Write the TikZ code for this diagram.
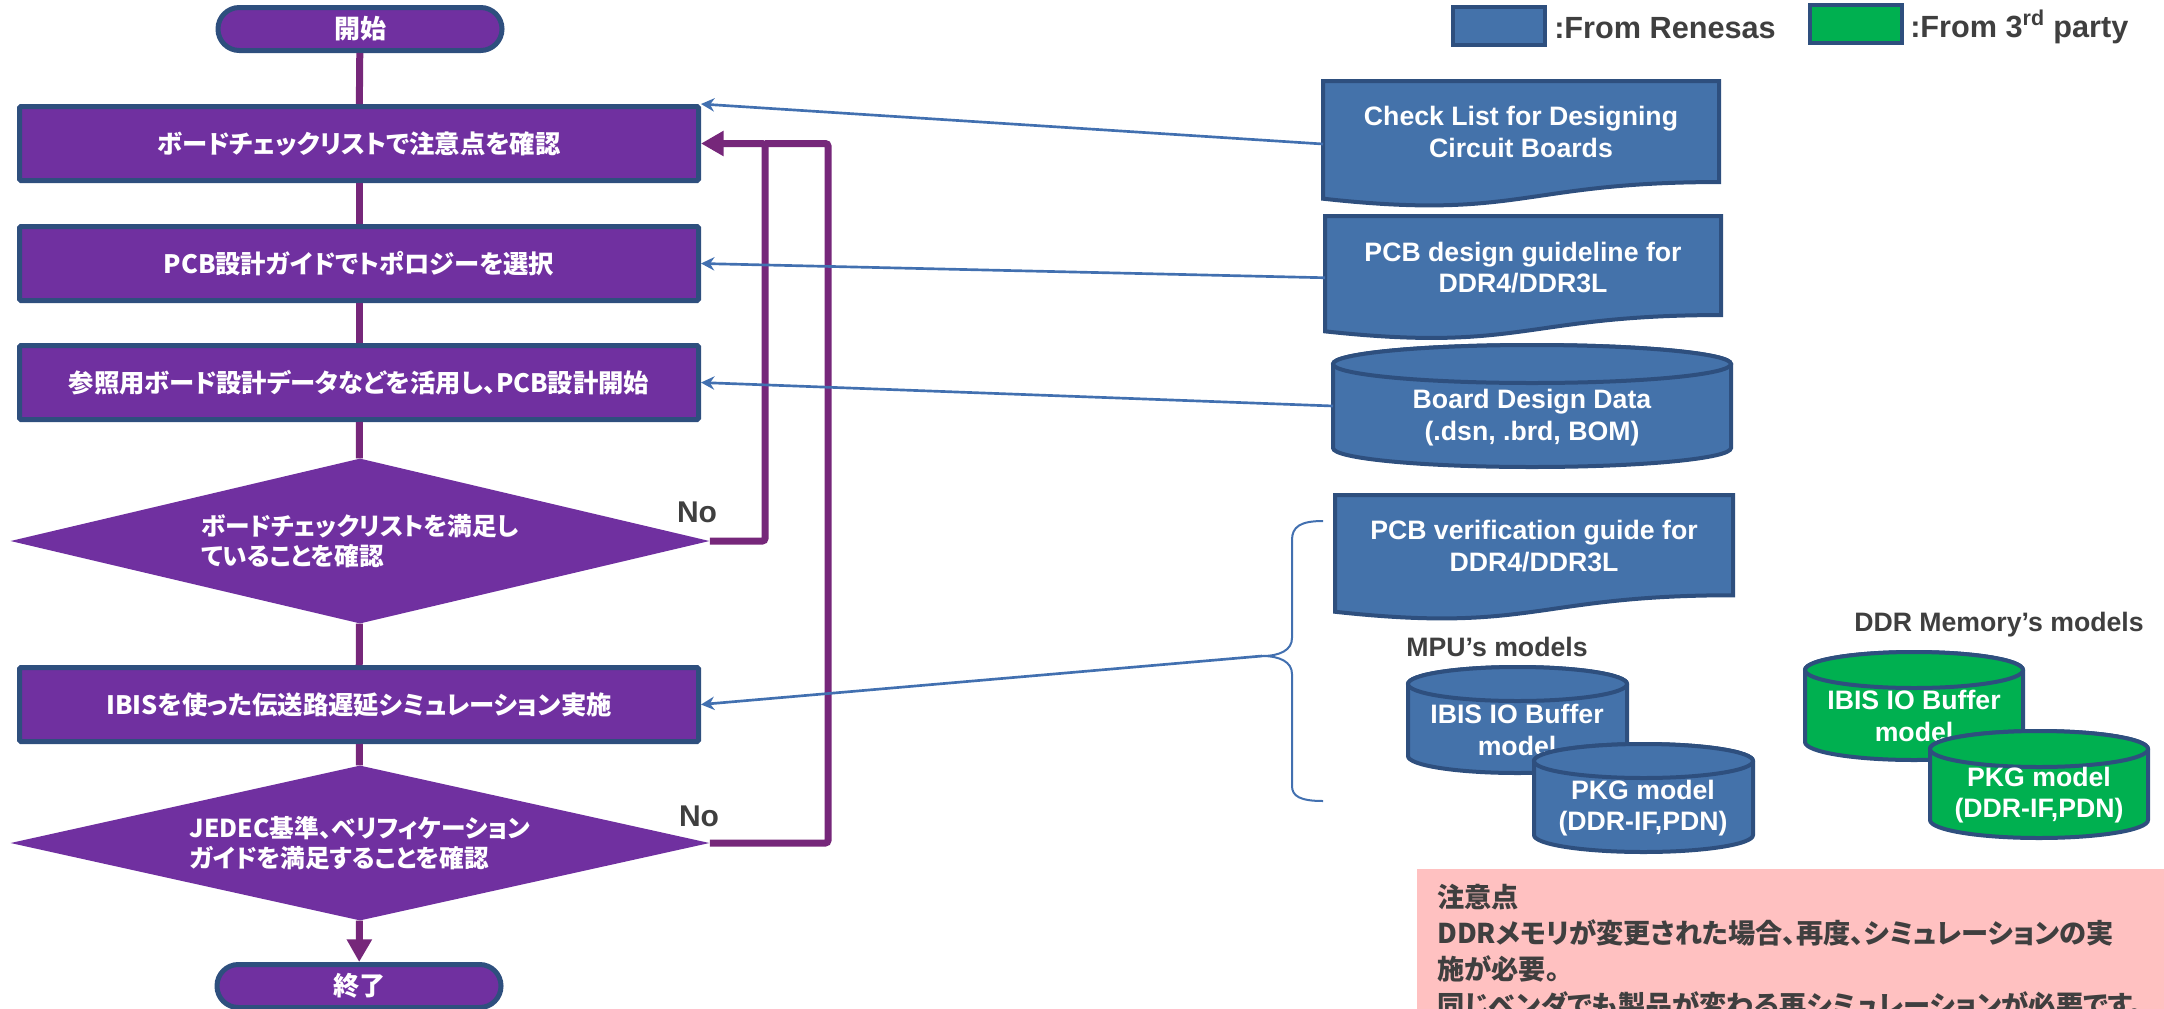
\documentclass[tikz,border=0pt]{standalone}
\usepackage{fontspec}
\setmainfont{Liberation Sans}
\newfontfamily\jpfont{Noto Sans CJK JP}[RawFeature=+palt]
\usetikzlibrary{shapes.geometric,arrows.meta}

\definecolor{flowpurple}{HTML}{7030A0}
\definecolor{edgeblue}{HTML}{2E4F7E}
\definecolor{linkpurple}{HTML}{76277A}
\definecolor{docblue}{HTML}{4472AA}
\definecolor{linkblue}{HTML}{4270B0}
\definecolor{thirdgreen}{HTML}{00B050}
\definecolor{notepink}{HTML}{FFC1C1}
\definecolor{darktext}{HTML}{3F3F3F}

% document sheet with a wavy lower edge, plus an empty node carrying its anchors
\newcommand\docsheet[5]{% name, left, right, top, height
  \filldraw[sheet] (#2,#4) -- (#3,#4) -- (#3,{#4+0.802*#5})
    .. controls ({(#2+#3)/2},{#4+0.802*#5}) and ({(#2+#3)/2},{#4+1.1075*#5}) .. (#2,{#4+0.934*#5}) -- cycle;
  \node[hollow, minimum width={(#3-#2)*0.75pt}, minimum height={#5*0.75pt}] (#1) at ({(#2+#3)/2},{#4+#5/2}) {};
}
% upright drum (data store), plus an empty node carrying its anchors
\newcommand\drum[7]{% name, cx, top, bottom, rx, ry, fill colour
  \filldraw[drumline, fill=#7] ({#2-#5},{#3+#6}) -- ({#2-#5},{#4-#6})
    arc[start angle=180,end angle=0,x radius=#5,y radius=#6] -- ({#2+#5},{#3+#6})
    arc[start angle=0,end angle=-180,x radius=#5,y radius=#6] -- cycle;
  \filldraw[drumline, fill=#7] (#2,{#3+#6}) ellipse[x radius=#5,y radius=#6];
  \node[hollow, minimum width={2*#5*0.75pt}, minimum height={(#4-#3)*0.75pt}] (#1) at (#2,{(#3+#4)/2}) {};
}

\begin{document}
\begin{tikzpicture}[x=0.75pt,y=-0.75pt,
  term/.style={draw=edgeblue, line width=3.75pt, fill=flowpurple, rounded corners=16pt,
    minimum width=284*0.75pt, minimum height=43*0.75pt, inner sep=0pt, text=white,
    font=\jpfont\bfseries\fontsize{19.5}{23}\selectfont},
  stepbox/.style={draw=edgeblue, line width=3.75pt, fill=flowpurple, rounded corners=1pt,
    minimum width=679*0.75pt, minimum height=74*0.75pt, inner sep=0pt, text=white,
    font=\jpfont\bfseries\fontsize{19}{23}\selectfont},
  decision/.style={diamond, aspect=4.24, fill=flowpurple, inner sep=0pt,
    minimum width=699*0.75pt, minimum height=165*0.75pt, text=white, align=left,
    font=\jpfont\bfseries\fontsize{18.5}{22.5}\selectfont},
  flow/.style={draw=linkpurple, line width=5.25pt},
  flowtip/.style={-{Triangle[length=17pt,width=18pt]}},
  ref/.style={draw=linkblue, line width=2pt, -{Stealth[length=10pt,width=10pt]}},
  sheet/.style={fill=docblue, draw=edgeblue, line width=3pt},
  drumline/.style={draw=edgeblue, line width=3pt},
  hollow/.style={inner sep=0pt, outer sep=0pt},
  shapetext/.style={text=white, align=center, font=\bfseries\fontsize{20}{23.5}\selectfont},
  graylabel/.style={text=darktext, font=\bfseries\fontsize{20}{23.5}\selectfont},
  nolabel/.style={text=darktext, font=\bfseries\fontsize{22.5}{26}\selectfont},
  keybox/.style={draw=edgeblue, line width=3pt, minimum width=92*0.75pt, minimum height=38*0.75pt},
  keytext/.style={text=darktext, anchor=west, inner sep=0pt, font=\bfseries\fontsize{23}{27}\selectfont},
  notetext/.style={text=darktext, align=left, inner sep=0pt,
    font=\jpfont\bfseries\fontsize{20.4}{27}\selectfont}]

\useasboundingbox (0,0) rectangle (2164,1008);

% caution note (runs off the lower edge)
\fill[notepink] (1417,869) rectangle (2170,1020);
\node[notetext, anchor=north west] (note) at (1437,884)
  {注意点\\DDRメモリが変更された場合、再度、シミュレーションの実\\施が必要。\\同じベンダでも製品が変わる再シミュレーションが必要です。};

% main flow
\node[term] (start) at (360,29) {開始};
\node[stepbox] (b1) at (359,143.5) {ボードチェックリストで注意点を確認};
\node[stepbox] (b2) at (359,263.5) {PCB設計ガイドでトポロジーを選択};
\node[stepbox] (b3) at (359,382.5) {参照用ボード設計データなどを活用し、PCB設計開始};
\node[decision] (d1) at (360,541) {ボードチェックリストを満足し\\ていることを確認};
\node[stepbox] (b4) at (359,704.5) {IBISを使った伝送路遅延シミュレーション実施};
\node[decision, minimum height=155*0.75pt] (d2) at (360,843) {JEDEC基準、ベリフィケーション\\ガイドを満足することを確認};
\node[term] (end) at (359,986) {終了};

\draw[flow] (start) -- (b1);
\draw[flow] (b1) -- (b2);
\draw[flow] (b2) -- (b3);
\draw[flow] (b3) -- (d1);
\draw[flow] (d1) -- (b4);
\draw[flow] (b4) -- (d2);
\draw[flow, flowtip] (d2) -- (end);

% "No" return paths
\coordinate (jin) at (765,143.5);
\coordinate (jout) at (828,143.5);
\draw[flow, rounded corners=2pt] (d2.east) -| (jout) -- (jin);
\draw[flow, flowtip, rounded corners=2pt] (d1.east) -| (jin) -- (b1.east);
\node[nolabel] (no1) at (697,512) {No};
\node[nolabel] (no2) at (699,816) {No};

% reference material
\docsheet{doc1}{1323}{1719}{81}{126}
\node[shapetext] (doc1t) at (1521,132) {Check List for Designing\\Circuit Boards};
\docsheet{doc2}{1325}{1721}{216}{123.5}
\node[shapetext] (doc2t) at (1523,267.5) {PCB design guideline for\\DDR4/DDR3L};
\drum{cyl1}{1532}{345}{467}{199}{19}{docblue}
\node[shapetext] (cyl1t) at (1532,417.5) {Board Design Data\\(.dsn, .brd, BOM)};
\docsheet{doc4}{1335}{1733}{495}{125}
\node[shapetext] (doc4t) at (1534,546) {PCB verification guide for\\DDR4/DDR3L};

\node[graylabel] (mpulbl) at (1497,647) {MPU’s models};
\drum{mpuio}{1517.5}{667}{773}{109.5}{17}{docblue}
\node[shapetext] (mpuiot) at (1517,730) {IBIS IO Buffer\\model};
\drum{mpupkg}{1643.5}{744}{852}{109.5}{17}{docblue}
\node[shapetext] (mpupkgt) at (1643,808) {PKG model\\(DDR-IF,PDN)};

\node[graylabel] (ddrlbl) at (1999,625) {DDR Memory’s models};
\drum{ddrio}{1914}{652}{760}{109}{18}{thirdgreen}
\node[shapetext] (ddriot) at (1914,716) {IBIS IO Buffer\\model};
\drum{ddrpkg}{2039}{731}{838}{109}{18}{thirdgreen}
\node[shapetext] (ddrpkgt) at (2039,795) {PKG model\\(DDR-IF,PDN)};

% brace grouping the verification material
\coordinate (bracetip) at (1262,656);
\draw[linkblue, line width=1.5pt] (1323,521) .. controls (1300,521) and (1292,527) .. (1292,540)
  -- (1292,638) .. controls (1292,650) and (1280,656) .. (bracetip)
  .. controls (1280,656) and (1292,662) .. (1292,674)
  -- (1292,786) .. controls (1292,796) and (1300,801) .. (1323,801);

\draw[ref] (doc1.west) -- (b1.north east);
\draw[ref] (doc2.west) -- (b2.east);
\draw[ref] (cyl1.west) -- (b3.east);
\draw[ref] (bracetip) -- (b4.east);

% key
\node[keybox, fill=docblue] (keyblue) at (1499,26) {};
\node[keytext] (keybluet) at (1554,28) {:From Renesas};
\node[keybox, fill=thirdgreen] (keygreen) at (1855.5,24) {};
\node[keytext] (keygreent) at (1910,27) {:From 3\textsuperscript{rd} party};
\end{tikzpicture}
\end{document}
